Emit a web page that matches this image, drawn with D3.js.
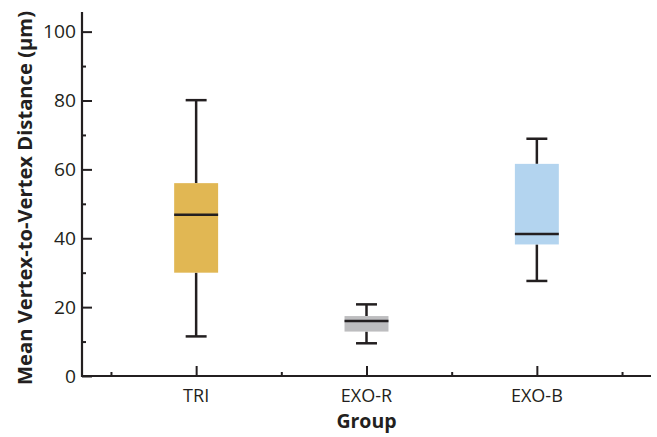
<!DOCTYPE html>
<html><head><meta charset="utf-8">
<script src="https://cdn.jsdelivr.net/npm/d3@7"></script>
<style>body{margin:0;background:#fff}svg{display:block}text{font-family:"Open Sans",sans-serif;fill:#231f20}</style>
</head><body><svg id="c" width="657" height="437"></svg>
<script>
const groups = ["TRI", "EXO-R", "EXO-B"];
const whiskerLow = [11.5, 9.5, 27.6];
const q1 = [30.0, 12.9, 38.2];
const median = [46.8, 16.0, 41.2];
const q3 = [56.0, 17.4, 61.6];
const whiskerHigh = [80.1, 20.8, 68.9];
const colors = ["#e1b753", "#bdbdbf", "#b3d4ef"];
const yTicks = [0, 20, 40, 60, 80, 100];
const yMinor = [10, 30, 50, 70, 90];
const xMinor = [0.5, 1.5, 2.5, 3.5];

const svg = d3.select("#c");
const x = d3.scaleLinear().domain([0.33, 3.67]).range([82, 651]);
const y = d3.scaleLinear().domain([0, 105.7]).range([376, 12]);
const ink = "#231f20";
const boxW = 0.258, capW = 0.123;

const data = groups.map((g, i) => ({g, i: i + 1, lo: whiskerLow[i], q1: q1[i], med: median[i], q3: q3[i], hi: whiskerHigh[i], c: colors[i]}));

const bx = svg.append("g").selectAll("g").data(data).join("g");
bx.append("line").attr("x1", d => x(d.i)).attr("x2", d => x(d.i)).attr("y1", d => y(d.hi)).attr("y2", d => y(d.q3)).attr("stroke", ink).attr("stroke-width", 2.5);
bx.append("line").attr("x1", d => x(d.i)).attr("x2", d => x(d.i)).attr("y1", d => y(d.q1)).attr("y2", d => y(d.lo)).attr("stroke", ink).attr("stroke-width", 2.5);
bx.append("line").attr("x1", d => x(d.i - capW / 2)).attr("x2", d => x(d.i + capW / 2)).attr("y1", d => y(d.hi)).attr("y2", d => y(d.hi)).attr("stroke", ink).attr("stroke-width", 2.5);
bx.append("line").attr("x1", d => x(d.i - capW / 2)).attr("x2", d => x(d.i + capW / 2)).attr("y1", d => y(d.lo)).attr("y2", d => y(d.lo)).attr("stroke", ink).attr("stroke-width", 2.5);
bx.append("rect").attr("x", d => x(d.i - boxW / 2)).attr("width", d => x(d.i + boxW / 2) - x(d.i - boxW / 2))
  .attr("y", d => y(d.q3)).attr("height", d => y(d.q1) - y(d.q3)).attr("fill", d => d.c);
bx.append("line").attr("x1", d => x(d.i - boxW / 2)).attr("x2", d => x(d.i + boxW / 2)).attr("y1", d => y(d.med)).attr("y2", d => y(d.med)).attr("stroke", ink).attr("stroke-width", 2.5);

// Y axis
const yAx = svg.append("g").attr("transform", "translate(82,0)")
  .call(d3.axisRight(y).tickValues(yTicks).tickSize(10).tickFormat(""));
yAx.select(".domain").remove();
yAx.selectAll("line").attr("stroke", ink).attr("stroke-width", 2);
const yMin = svg.append("g").attr("transform", "translate(82,0)")
  .call(d3.axisRight(y).tickValues(yMinor).tickSize(4).tickFormat(""));
yMin.select(".domain").remove();
yMin.selectAll("line").attr("stroke", ink).attr("stroke-width", 2);
svg.append("g").selectAll("text").data(yTicks).join("text")
  .attr("x", 76).attr("y", d => y(d)).attr("dy", "0.36em").attr("text-anchor", "end")
  .attr("font-size", 18.5).attr("textLength", d => String(d).length * 11).attr("lengthAdjust", "spacingAndGlyphs")
  .text(d => d);

// X axis
const xAx = svg.append("g").attr("transform", "translate(0,376)")
  .call(d3.axisTop(x).tickValues([1, 2, 3]).tickSize(10).tickFormat(""));
xAx.select(".domain").remove();
xAx.selectAll("line").attr("stroke", ink).attr("stroke-width", 2);
const xMin = svg.append("g").attr("transform", "translate(0,376)")
  .call(d3.axisTop(x).tickValues(xMinor).tickSize(4).tickFormat(""));
xMin.select(".domain").remove();
xMin.selectAll("line").attr("stroke", ink).attr("stroke-width", 2);
svg.append("g").selectAll("text").data(data).join("text")
  .attr("x", d => x(d.i)).attr("y", 402).attr("text-anchor", "middle")
  .attr("font-size", 18).text(d => d.g);

// axis lines
svg.append("path").attr("d", `M${x(0.33)},${y(105.7)}V${y(0)}H${x(3.67)}`)
  .attr("fill", "none").attr("stroke", ink).attr("stroke-width", 2.2);

svg.append("text").attr("x", x(2)).attr("y", 428).attr("text-anchor", "middle")
  .attr("font-size", 19.5).attr("font-weight", "bold")
  .text("Group");
svg.append("text").attr("transform", `translate(32,198) rotate(-90)`)
  .attr("text-anchor", "middle").attr("font-size", 19.5).attr("font-weight", "bold")
  .attr("textLength", 374).attr("lengthAdjust", "spacingAndGlyphs")
  .text("Mean Vertex-to-Vertex Distance (μm)");
</script></body></html>
